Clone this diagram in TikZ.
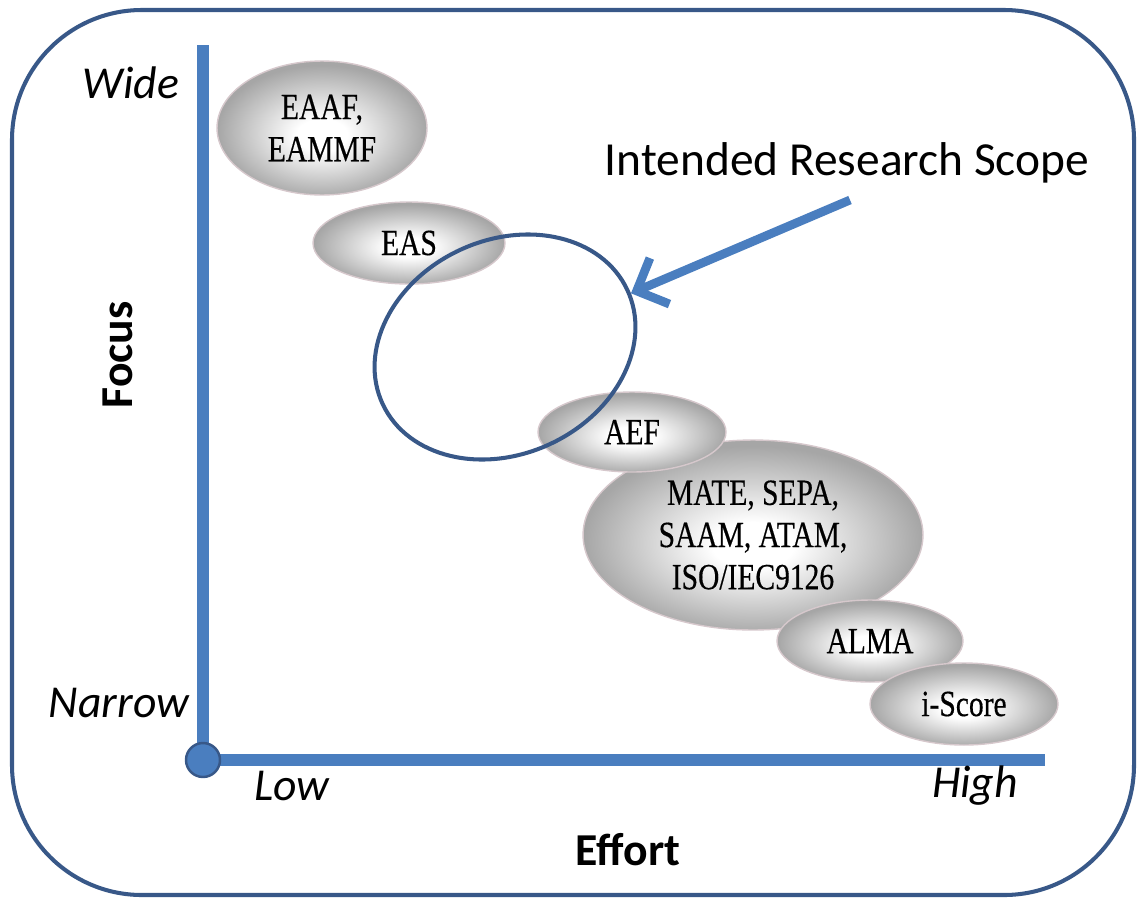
\documentclass[tikz,border=0pt]{standalone}
\usepackage{fontspec}
\setmainfont{Carlito}
\newfontfamily\ellfont[FakeStretch=0.8,FakeBold=0.4]{Liberation Serif}
\usetikzlibrary{shapes.geometric,arrows.meta}
\definecolor{axisblue}{RGB}{74,126,191}
\definecolor{darkblue}{RGB}{56,88,136}
\definecolor{rimgray}{RGB}{214,200,204}
\pgfdeclareradialshading{methodshade}{\pgfpoint{0bp}{-3bp}}{color(0bp)=(white); color(6bp)=(white); color(25bp)=(gray!70); color(50bp)=(gray!70)}
\tikzset{
  method/.style={ellipse, inner sep=0pt, draw=rimgray, line width=0.8pt,
    shading=methodshade, align=center,
    font=\ellfont\fontsize{21}{24}\selectfont},
  axislabel/.style={font=\itshape\fontsize{26}{30}\selectfont},
  axistitle/.style={font=\bfseries\fontsize{26}{30}\selectfont}
}
\begin{document}
\begin{tikzpicture}[x=0.02cm,y=-0.02cm]
 		\useasboundingbox (0,0) rectangle (1138,903);
 		\draw [darkblue, line width=2.3pt, rounded corners=2.6cm] (12,10) rectangle (1134,895);

        \coordinate (ytop) at (203,45);
        \coordinate (origin) at (203,760);
        \coordinate (xend) at (1045,760);
        \draw [axisblue, line width=6.8pt] (ytop) -- (origin) -- (xend);
        \node [circle, fill=axisblue, draw=darkblue, line width=1.4pt, minimum size=0.68cm] (orig) at (origin) {};

        \node [method, minimum width=6.8cm, minimum height=3.8cm] (mate) at (753,535) {MATE, SEPA,\\SAAM, ATAM,\\ISO/IEC9126};
        \node [method, minimum width=3.76cm, minimum height=1.6cm] (aef) at (632,432) {AEF};
        \node [method, minimum width=3.72cm, minimum height=1.64cm] (alma) at (870,641) {ALMA};
        \node [method, minimum width=3.76cm, minimum height=1.64cm] (iscore) at (964,704) {i-Score};
        \node [method, minimum width=4.2cm, minimum height=2.68cm] (eaaf) at (322,128) {EAAF,\\EAMMF};
        \node [method, minimum width=3.84cm, minimum height=1.64cm] (eas) at (409,243) {EAS};

        \node [ellipse, draw=darkblue, line width=2.3pt, minimum width=5.4cm, minimum height=4.28cm, rotate=25] (scope) at (505,347) {};

        \node [font=\fontsize{27}{31}\selectfont] (scopetext) at (847,163) {Intended Research Scope};
        \coordinate (tail) at (850,200);
        \draw [axisblue, line width=5pt, -{Straight Barb[length=0.5cm, width=1cm]}] (tail) -- (scope);

        \node [axislabel] (wide) at (131,83) {Wide};
        \node [axislabel] (narrow) at (119,703) {Narrow};
        \node [axislabel] (low) at (292,786) {Low};
        \node [axislabel] (high) at (975,786) {High};
        \node [axistitle, rotate=90] (focus) at (118,355) {Focus};
        \node [axistitle] (effort) at (628,850) {Effort};
\end{tikzpicture}
\end{document}
